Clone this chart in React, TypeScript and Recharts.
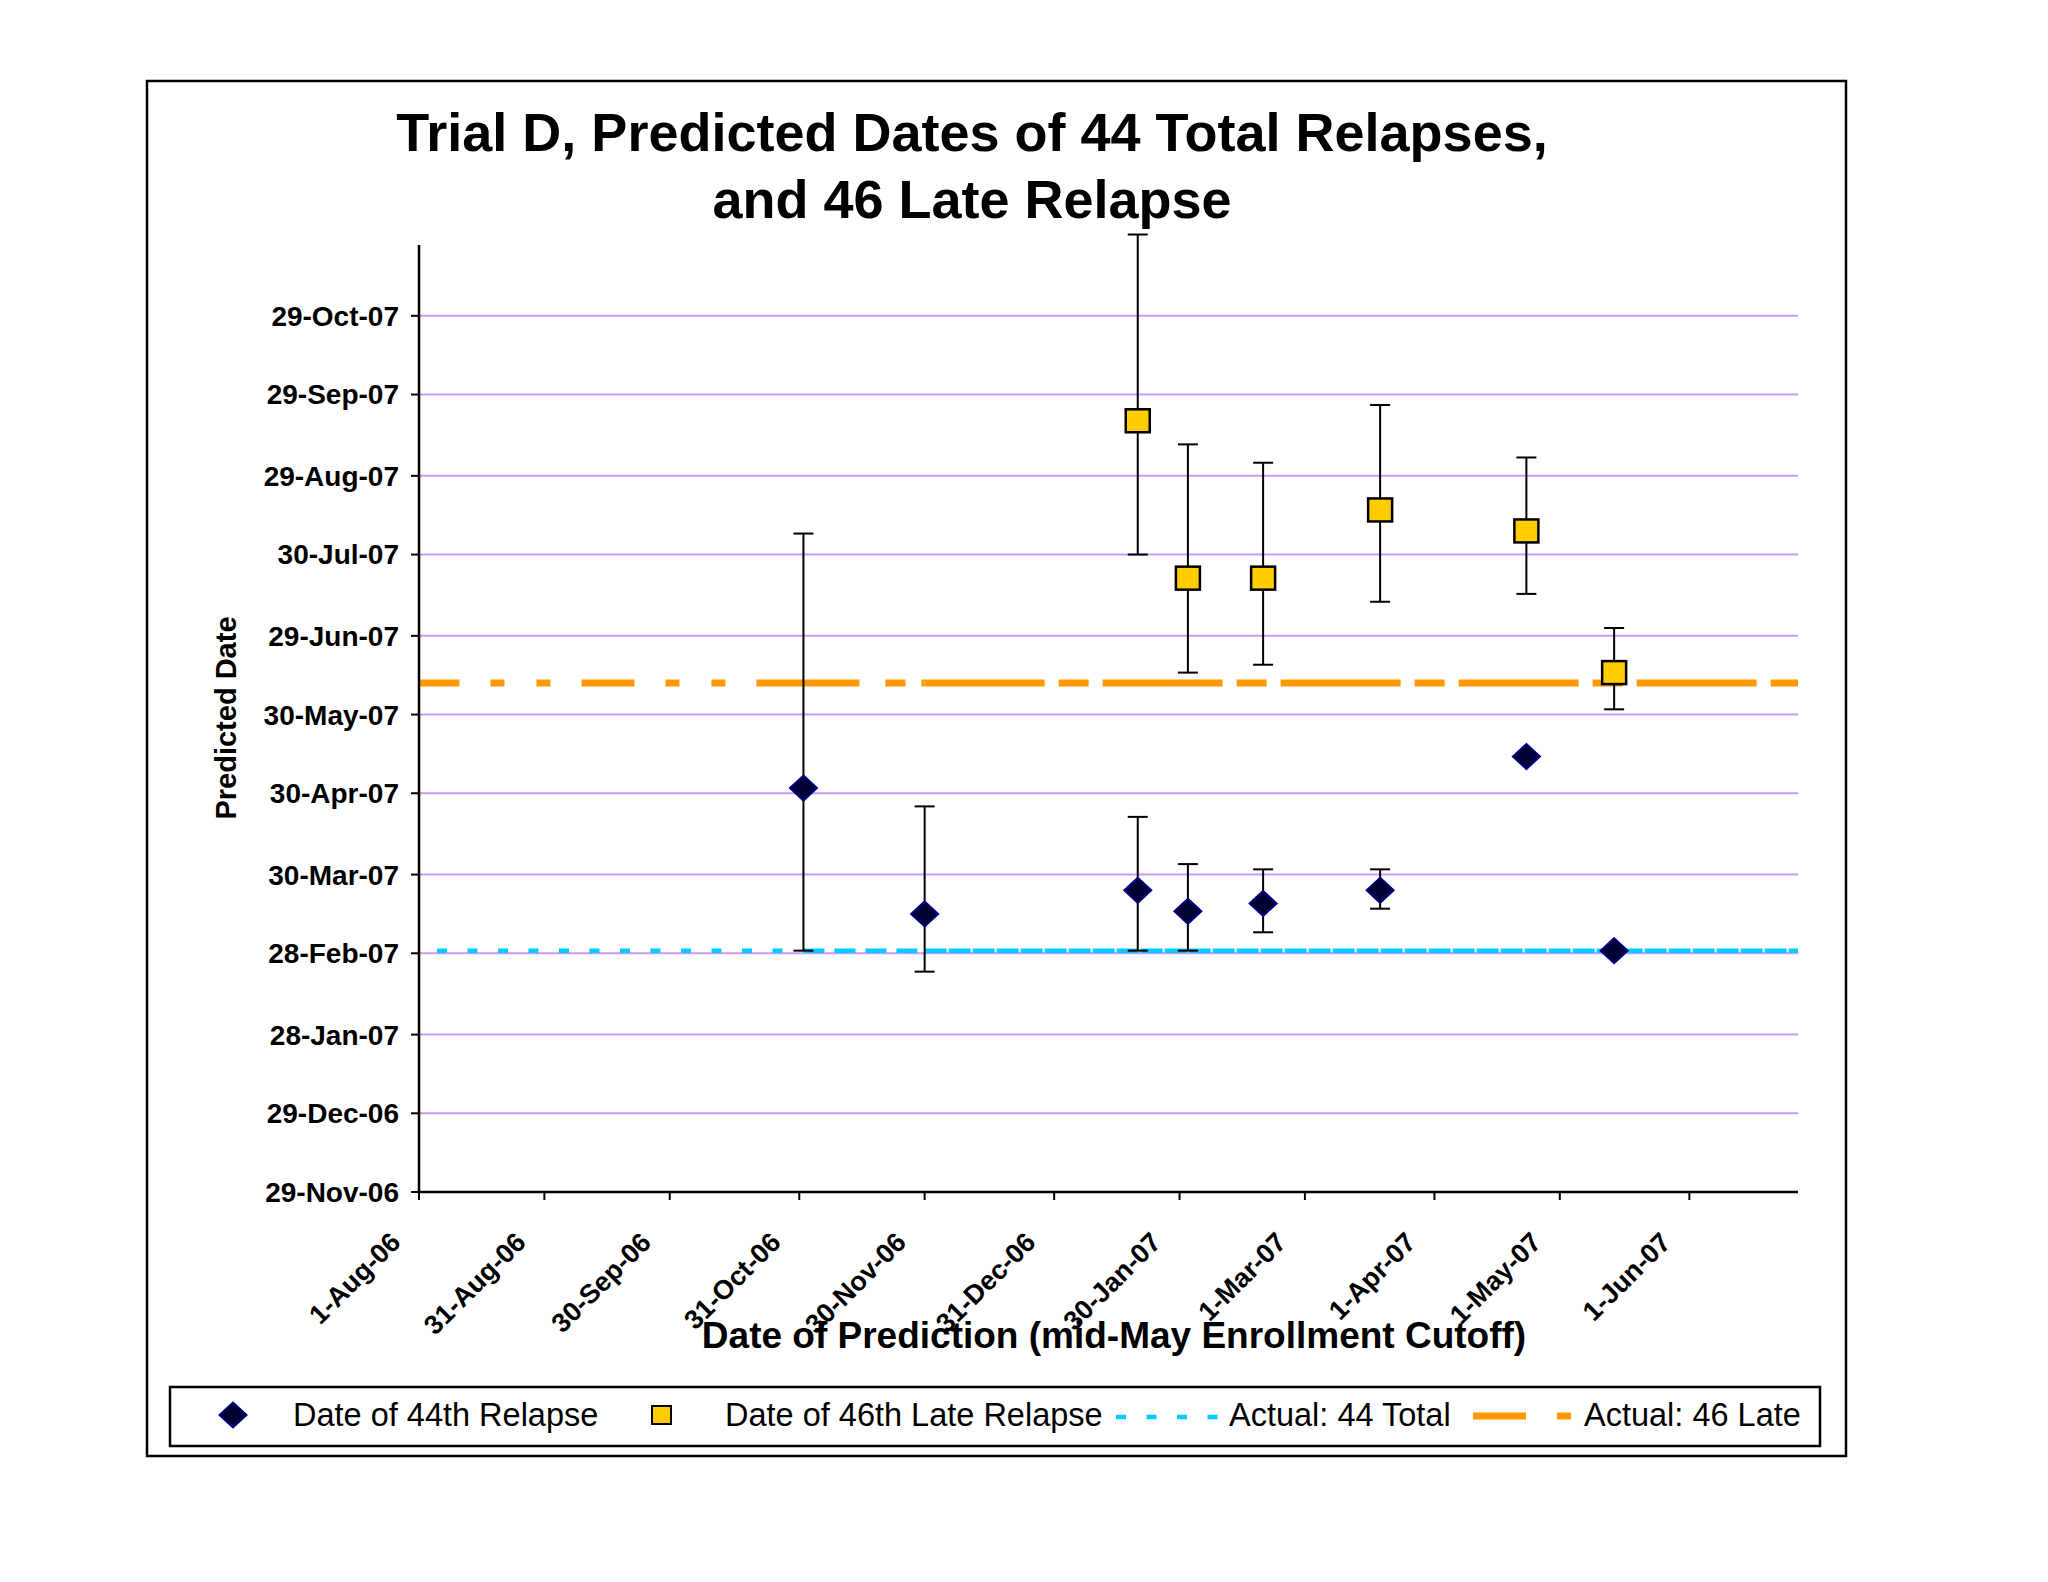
import { ComposedChart, XAxis, YAxis, CartesianGrid, Scatter, Line, ErrorBar } from "recharts";

// dates (yyyy-mm-dd)
const predictionDates = ["2006-11-01", "2006-11-30", "2007-01-20", "2007-02-01", "2007-02-19", "2007-03-19", "2007-04-23", "2007-05-14"];
const relapse44 = ["2007-05-02", "2007-03-15", "2007-03-24", "2007-03-16", "2007-03-19", "2007-03-24", "2007-05-14", "2007-03-01"];
const relapse44Low = ["2007-03-01", "2007-02-21", "2007-03-01", "2007-03-01", "2007-03-08", "2007-03-17", null, null];
const relapse44High = ["2007-08-07", "2007-04-25", "2007-04-21", "2007-04-03", "2007-04-01", "2007-04-01", null, null];
const lateRelapse46 = [null, null, "2007-09-19", "2007-07-21", "2007-07-21", "2007-08-16", "2007-08-08", "2007-06-15"];
const lateRelapse46Low = [null, null, "2007-07-30", "2007-06-15", "2007-06-18", "2007-07-12", "2007-07-15", "2007-06-01"];
const lateRelapse46High = [null, null, "2007-11-29", "2007-09-10", "2007-09-03", "2007-09-25", "2007-09-05", "2007-07-02"];
const actual44Total = "2007-03-01";
const actual46Late = "2007-06-11";
const actualSpan = ["2006-07-29", "2007-07-01"];

const xTickDates = ["2006-08-01", "2006-08-31", "2006-09-30", "2006-10-31", "2006-11-30", "2006-12-31", "2007-01-30", "2007-03-01", "2007-04-01", "2007-05-01", "2007-06-01"];
const yTickDates = ["2006-11-29", "2006-12-29", "2007-01-28", "2007-02-28", "2007-03-30", "2007-04-30", "2007-05-30", "2007-06-29", "2007-07-30", "2007-08-29", "2007-09-29", "2007-10-29"];
const xRange = ["2006-08-01", "2007-06-27"];
const yRange = ["2006-11-29", "2007-11-25"];

const MONTHS = ["Jan", "Feb", "Mar", "Apr", "May", "Jun", "Jul", "Aug", "Sep", "Oct", "Nov", "Dec"];
const day = (s: string) => Date.UTC(+s.slice(0, 4), +s.slice(5, 7) - 1, +s.slice(8, 10)) / 864e5;
const fmt = (d: number) => {
  const dt = new Date(Math.round(d) * 864e5);
  return `${dt.getUTCDate()}-${MONTHS[dt.getUTCMonth()]}-${String(dt.getUTCFullYear()).slice(2)}`;
};

const relapseData = predictionDates.map((d, i) => {
  const v = day(relapse44[i]);
  const lo = relapse44Low[i];
  const hi = relapse44High[i];
  return { x: day(d), y: v, err: lo && hi ? [v - day(lo), day(hi) - v] : null };
});

const lateData = predictionDates
  .map((d, i) => {
    const s = lateRelapse46[i];
    if (!s) return null;
    const v = day(s);
    return { x: day(d), y: v, err: [v - day(lateRelapse46Low[i] as string), day(lateRelapse46High[i] as string) - v] };
  })
  .filter(Boolean);

// Excel restarts the dash pattern at every point of the line, so draw it per segment
const breaks = [actualSpan[0], predictionDates[0], predictionDates[1], actualSpan[1]];
const segment = (value: string, i: number) => [
  { x: day(breaks[i]), y: day(value) },
  { x: day(breaks[i + 1]), y: day(value) },
];
const cyanDash = ["10 20.5", "21 10", "22 2"];
const orangeDash = ["53 31 14 32 14 31", "56 26 20 16", "120 14 30 14"];

const CYAN = "#00CCFF";
const ORANGE = "#FF9900";
const FONT = "'Liberation Sans', Arial, sans-serif";

const Diamond = (props: any) => {
  const { cx, cy } = props;
  return (
    <polygon
      points={`${cx},${cy - 12.5} ${cx + 13.5},${cy} ${cx},${cy + 12.5} ${cx - 13.5},${cy}`}
      fill="#000033"
      stroke="#000080"
      strokeWidth={2}
    />
  );
};

const Square = (props: any) => {
  const { cx, cy } = props;
  return <rect x={cx - 12} y={cy - 11.5} width={24} height={23} fill="#FFCC00" stroke="#000" strokeWidth={2.5} />;
};

const XTick = (props: any) => {
  const { x, y, payload } = props;
  return (
    <g transform={`translate(${x - 17},${y + 42})`}>
      <text textAnchor="end" transform="rotate(-45)" fontSize={27} fontWeight="bold" fill="#000" fontFamily={FONT}>
        {fmt(payload.value)}
      </text>
    </g>
  );
};

const Overlay = () => (
  <svg width={2048} height={1582} style={{ position: "absolute", left: 0, top: 0, pointerEvents: "none" }} fontFamily={FONT}>
    <rect x={147} y={81} width={1699} height={1375} fill="none" stroke="#000" strokeWidth={2.5} />
    <text x={972} y={151} textAnchor="middle" fontSize={54} fontWeight="bold">
      Trial D, Predicted Dates of 44 Total Relapses,
    </text>
    <text x={972} y={218} textAnchor="middle" fontSize={54} fontWeight="bold">
      and 46 Late Relapse
    </text>
    <text x={1114} y={1348} textAnchor="middle" fontSize={37} fontWeight="bold">
      Date of Prediction (mid-May Enrollment Cutoff)
    </text>
    <text x={236} y={718} textAnchor="middle" fontSize={29} fontWeight="bold" transform="rotate(-90 236 718)">
      Predicted Date
    </text>
    <rect x={170} y={1387} width={1650} height={59} fill="#fff" stroke="#000" strokeWidth={2.5} />
    <Diamond cx={233} cy={1415} />
    <text x={293} y={1426} fontSize={32.5}>Date of 44th Relapse</text>
    <rect x={652} y={1406} width={19} height={18} fill="#FFCC00" stroke="#000" strokeWidth={2} />
    <text x={725} y={1426} fontSize={32.5}>Date of 46th Late Relapse</text>
    <line x1={1116} x2={1226} y1={1417} y2={1417} stroke={CYAN} strokeWidth={4.5} strokeDasharray={cyanDash[0]} />
    <text x={1229} y={1426} fontSize={32.5}>Actual: 44 Total</text>
    <line x1={1473} x2={1572} y1={1416} y2={1416} stroke={ORANGE} strokeWidth={7} strokeDasharray={orangeDash[0]} />
    <text x={1584} y={1426} fontSize={32.5}>Actual: 46 Late</text>
  </svg>
);

export default function App() {
  return (
    <div style={{ position: "absolute", left: 0, top: 0, width: 2048, height: 1582, background: "#fff", fontFamily: FONT }}>
      <ComposedChart width={2048} height={1582} margin={{ top: 245, right: 250, bottom: 290, left: 219 }}>
        <CartesianGrid horizontal vertical={false} horizontalValues={yTickDates.map(day)} stroke="#CC99FF" strokeWidth={2} />
        <XAxis
          type="number"
          dataKey="x"
          domain={[day(xRange[0]), day(xRange[1])]}
          ticks={xTickDates.map(day)}
          allowDataOverflow
          interval={0}
          height={100}
          tickSize={8}
          tick={<XTick />}
          axisLine={{ stroke: "#000", strokeWidth: 2.5 }}
          tickLine={{ stroke: "#000", strokeWidth: 2 }}
        />
        <YAxis
          type="number"
          dataKey="y"
          domain={[day(yRange[0]), day(yRange[1])]}
          ticks={yTickDates.map(day)}
          allowDataOverflow
          interval={0}
          width={200}
          tickSize={8}
          tickMargin={12}
          tickFormatter={fmt}
          tick={{ fontSize: 28, fontWeight: "bold", fill: "#000", fontFamily: FONT }}
          axisLine={{ stroke: "#000", strokeWidth: 2.5 }}
          tickLine={{ stroke: "#000", strokeWidth: 2 }}
        />
        {cyanDash.map((dash, i) => (
          <Line
            key={`c${i}`}
            data={segment(actual44Total, i)}
            dataKey="y"
            type="linear"
            stroke={CYAN}
            strokeWidth={4.5}
            strokeDasharray={dash}
            dot={false}
            activeDot={false}
            isAnimationActive={false}
          />
        ))}
        {orangeDash.map((dash, i) => (
          <Line
            key={`o${i}`}
            data={segment(actual46Late, i)}
            dataKey="y"
            type="linear"
            stroke={ORANGE}
            strokeWidth={7}
            strokeDasharray={dash}
            dot={false}
            activeDot={false}
            isAnimationActive={false}
          />
        ))}
        <Scatter data={relapseData} dataKey="y" shape={Diamond} isAnimationActive={false}>
          <ErrorBar dataKey="err" direction="y" width={10} stroke="#000" strokeWidth={2} />
        </Scatter>
        <Scatter data={lateData} dataKey="y" shape={Square} isAnimationActive={false}>
          <ErrorBar dataKey="err" direction="y" width={10} stroke="#000" strokeWidth={2} />
        </Scatter>
      </ComposedChart>
      <Overlay />
    </div>
  );
}
